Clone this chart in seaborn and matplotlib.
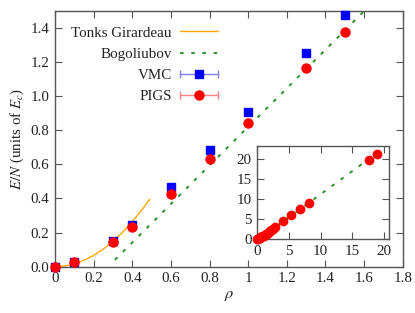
import numpy as np
import matplotlib
matplotlib.use("Agg")
import matplotlib.pyplot as plt
import seaborn as sns
from matplotlib.lines import Line2D
from matplotlib.legend_handler import HandlerLine2D

# %%
# datos
rho_pts = [0.0, 0.1, 0.3, 0.4, 0.6, 0.8, 1.0, 1.3, 1.5]
vmc_E = [0.0, 0.029, 0.153, 0.247, 0.465, 0.682, 0.906, 1.249, 1.476]
vmc_err = [0.003, 0.003, 0.004, 0.004, 0.005, 0.005, 0.006, 0.006, 0.007]
pigs_E = [0.0, 0.026, 0.145, 0.232, 0.426, 0.628, 0.839, 1.163, 1.376]
pigs_err = [0.003, 0.003, 0.004, 0.004, 0.005, 0.005, 0.006, 0.006, 0.007]

tg_rho = [0.0, 0.05, 0.1, 0.15, 0.2, 0.25, 0.3, 0.35, 0.4, 0.45, 0.49]
tg_E = [0.0, 0.004, 0.016, 0.037, 0.066, 0.103, 0.148, 0.202, 0.263, 0.333, 0.395]

bog_rho = [0.31, 1.70]
bog_E = [0.04, 1.61]

# inset
ins_rho = [0.0, 0.1, 0.3, 0.4, 0.6, 0.8, 1.0, 1.3, 1.5, 1.8, 2.0, 2.2, 2.5, 2.8,
           4.0, 5.4, 6.8, 8.1, 17.6, 19.0]
ins_E = [0.0, 0.026, 0.145, 0.232, 0.426, 0.628, 0.839, 1.163, 1.376, 1.72, 1.95,
         2.2, 2.55, 2.9, 4.5, 6.0, 7.5, 9.1, 19.8, 21.3]
ins_err = [0.3] * 20
ins_bog_rho = [0.3, 20.4]
ins_bog_E = [0.0, 23.2]

# %%
sns.set_theme(style="ticks")
plt.rcParams["font.family"] = ["Liberation Serif", "DejaVu Serif"]
plt.rcParams["mathtext.fontset"] = "stix"
plt.rcParams["text.color"] = "#222222"
plt.rcParams["axes.labelcolor"] = "#222222"
plt.rcParams["xtick.color"] = "#555555"
plt.rcParams["ytick.color"] = "#555555"
plt.rcParams["xtick.labelcolor"] = "#222222"
plt.rcParams["ytick.labelcolor"] = "#222222"

fs = 10.8
orange = "#ffa500"
green = "#228b22"
dash = (2.0, 4.2)


def estilo_ejes(ax):
    for s in ax.spines.values():
        s.set_color("#555555")
        s.set_linewidth(1.0)
    ax.tick_params(direction="in", length=5, width=0.8, top=True, right=True,
                   labelsize=fs, pad=4)


fig = plt.figure(figsize=(4.15, 3.13), dpi=100)
ax = fig.add_axes([0.1325, 0.148, 0.838, 0.818])

sns.lineplot(x=tg_rho, y=tg_E, ax=ax, color=orange, lw=1.0)
sns.lineplot(x=bog_rho, y=bog_E, ax=ax, color=green, lw=1.3)
ax.lines[-1].set_dashes(dash)

ax.errorbar(rho_pts, vmc_E, yerr=vmc_err, fmt="s", color="blue", ms=6,
            ecolor="#8080ff", capsize=2, clip_on=False, zorder=3)
ax.errorbar(rho_pts, pigs_E, yerr=pigs_err, fmt="o", color="red", ms=6.5,
            ecolor="#ff8080", capsize=2, clip_on=False, zorder=4)

ax.set_xlim(0, 1.8)
ax.set_ylim(0, 1.5)
ax.set_xticks(np.arange(0, 1.81, 0.2))
ax.set_xticklabels(["0", "0.2", "0.4", "0.6", "0.8", "1", "1.2", "1.4", "1.6", "1.8"])
ax.set_yticks(np.arange(0, 1.41, 0.2))
ax.set_yticklabels([f"{v:.1f}" for v in np.arange(0, 1.41, 0.2)])
ax.set_xlabel(r"$\rho$", fontsize=fs + 1, labelpad=1)
ax.set_ylabel(r"$E/N$ (units of $E_c$)", fontsize=fs, labelpad=3)
estilo_ejes(ax)

# leyenda estilo gnuplot
h_tg = Line2D([], [], color=orange, lw=1.0)
h_bog = Line2D([], [], color=green, lw=1.3, dashes=dash)
cap_v = Line2D([], [], color="#8080ff", lw=1.0, marker="|", ms=6, mew=1.0)
mk_v = Line2D([], [], ls="none", marker="s", color="blue", ms=6)
cap_p = Line2D([], [], color="#ff8080", lw=1.0, marker="|", ms=6, mew=1.0)
mk_p = Line2D([], [], ls="none", marker="o", color="red", ms=6.5)
hm = {cap_v: HandlerLine2D(numpoints=2, marker_pad=0),
      cap_p: HandlerLine2D(numpoints=2, marker_pad=0)}
ax.legend([h_tg, h_bog, (cap_v, mk_v), (cap_p, mk_p)],
          ["Tonks Girardeau", "Bogoliubov", "VMC", "PIGS"],
          loc="upper right", bbox_to_anchor=(0.469, 0.94), frameon=False,
          markerfirst=False, borderpad=0, borderaxespad=0, handlelength=2.55,
          handletextpad=0.55, labelspacing=0.52, fontsize=fs, handler_map=hm)

# inset
ax2 = fig.add_axes([0.620, 0.2364, 0.317, 0.2962])
sns.lineplot(x=ins_bog_rho, y=ins_bog_E, ax=ax2, color=green, lw=1.3)
ax2.lines[-1].set_dashes(dash)
ax2.errorbar(ins_rho, ins_E, xerr=ins_err, fmt="o", color="red", ms=6,
             ecolor="#ff8080", capsize=1.5, clip_on=False, zorder=4)
ax2.set_xlim(0, 20.8)
ax2.set_ylim(0, 23.2)
ax2.set_xticks([0, 5, 10, 15, 20])
ax2.set_yticks([0, 5, 10, 15, 20])
estilo_ejes(ax2)

fig.savefig("out.png", dpi=100)
